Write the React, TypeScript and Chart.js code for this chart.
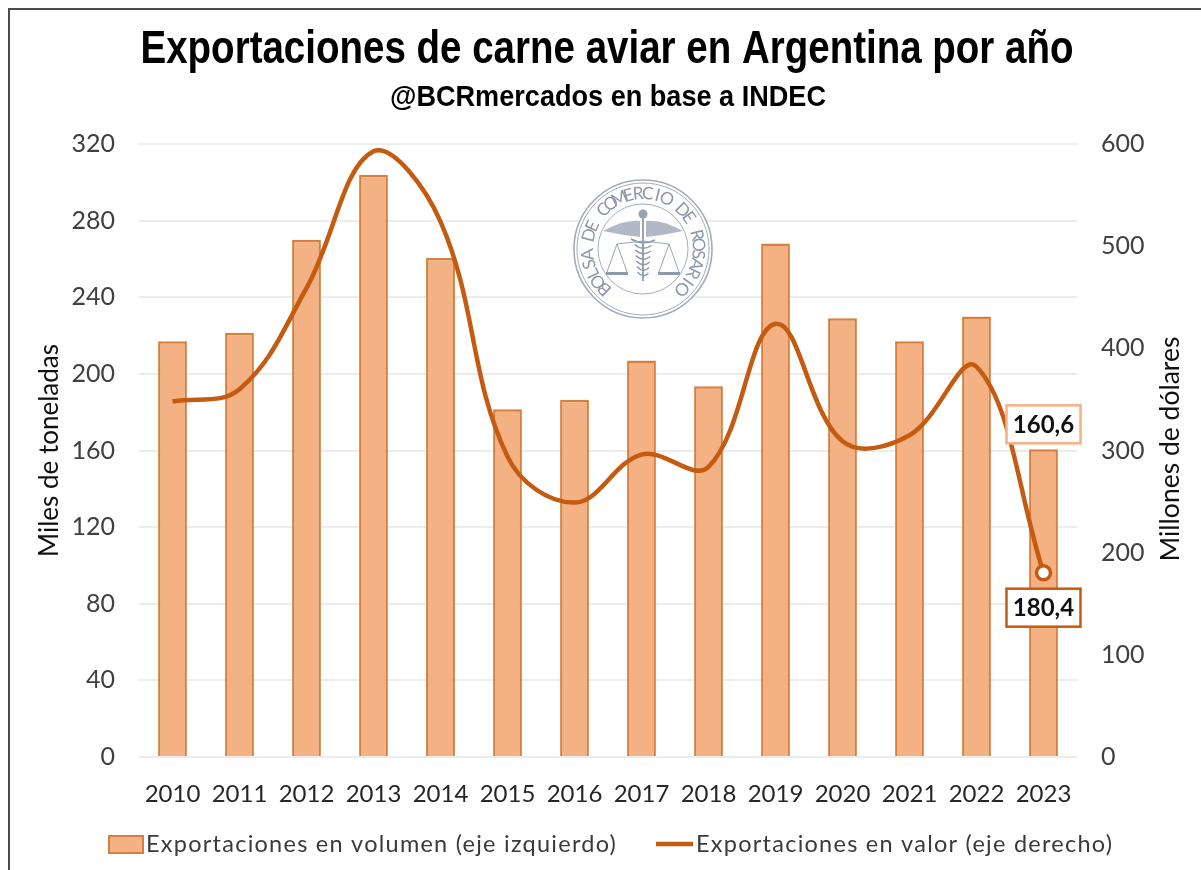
import React, { useEffect, useRef } from "react";
import { Chart, registerables } from "chart.js";

Chart.register(...registerables);

const years = ["2010","2011","2012","2013","2014","2015","2016","2017","2018","2019","2020","2021","2022","2023"];
const volumen = [217, 221.5, 270, 304, 260.5, 181.5, 186.5, 207, 193.5, 268, 229, 217, 230, 160.6];
const valor = [348, 360, 459, 593, 524, 294, 249, 296, 284, 424, 309, 315, 382, 180.4];
const leftTicks = [0, 40, 80, 120, 160, 200, 240, 280, 320];
const rightTicks = [0, 100, 200, 300, 400, 500, 600];

const titleText = "Exportaciones de carne aviar en Argentina por año";
const subtitleText = "@BCRmercados en base a INDEC";
const rightTitle = "Millones de dólares";
const sealText = "BOLSA DE COMERCIO DE ROSARIO";

const ORANGE = "#c55a11";
const FILL = "#f4b183";
const BAR_EDGE = "#d5803f";
const LATO = "Lato, Carlito, sans-serif";
const ARIAL = "'Liberation Sans', Arial, sans-serif";

const headings = {
  id: "headings",
  afterDraw(chart: any) {
    const { ctx } = chart;
    const stretched = (text: string, font: string, cx: number, cy: number, w: number) => {
      ctx.save();
      ctx.font = font;
      ctx.fillStyle = "#000000";
      ctx.textAlign = "center";
      ctx.textBaseline = "middle";
      const k = w / ctx.measureText(text).width;
      ctx.translate(cx, cy);
      ctx.scale(k, 1);
      ctx.fillText(text, 0, 0);
      ctx.restore();
    };
    stretched(titleText, `bold 46px ${ARIAL}`, 607, 50, 933);
    stretched(subtitleText, `bold 30px ${ARIAL}`, 608, 98, 436);
    ctx.save();
    ctx.translate(1170, 449);
    ctx.rotate(-Math.PI / 2);
    ctx.font = `26.5px ${LATO}`;
    ctx.fillStyle = "#111111";
    ctx.textAlign = "center";
    ctx.textBaseline = "middle";
    ctx.fillText(rightTitle, 0, 0);
    ctx.restore();
  },
};

const decoration = {
  id: "decoration",
  beforeDatasetsDraw(chart: any) {
    const { ctx } = chart;
    const cx = 643, cy = 249;
    ctx.save();
    ctx.fillStyle = "rgba(255,255,255,0.85)";
    ctx.beginPath(); ctx.arc(cx, cy, 70, 0, Math.PI * 2); ctx.fill();
    ctx.strokeStyle = "#a3abbb";
    ctx.lineWidth = 1.6;
    ctx.beginPath(); ctx.arc(cx, cy, 69, 0, Math.PI * 2); ctx.stroke();
    ctx.lineWidth = 1;
    ctx.beginPath(); ctx.arc(cx, cy, 66, 0, Math.PI * 2); ctx.stroke();
    ctx.beginPath(); ctx.arc(cx, cy, 45, 0, Math.PI * 2); ctx.stroke();
    ctx.fillStyle = "#8f98ab";
    ctx.font = `17.5px ${LATO}`;
    ctx.textAlign = "center";
    ctx.textBaseline = "middle";
    const start = (-136 * Math.PI) / 180;
    const step = (272 * Math.PI) / 180 / (sealText.length - 1);
    [...sealText].forEach((ch, i) => {
      const a = start + i * step;
      ctx.save();
      ctx.translate(cx + Math.sin(a) * 55.5, cy - Math.cos(a) * 55.5);
      ctx.rotate(a);
      ctx.fillText(ch, 0, 0);
      ctx.restore();
    });
    ctx.strokeStyle = "#8f99ac";
    ctx.lineWidth = 1.8;
    ctx.beginPath(); ctx.moveTo(cx, cy - 38); ctx.lineTo(cx, cy + 32); ctx.stroke();
    ctx.fillStyle = "#9aa3b5";
    ctx.beginPath(); ctx.arc(cx, cy - 35, 4.5, 0, Math.PI * 2); ctx.fill();
    ctx.lineWidth = 1.5;
    for (let i = 0; i < 7; i++) {
      const y = cy - 10 + i * 5.5;
      const w = i === 0 ? 12 : 9 - i * 0.6;
      ctx.beginPath(); ctx.moveTo(cx - w, y); ctx.quadraticCurveTo(cx, y + 7, cx + w, y + 1); ctx.stroke();
    }
    ctx.fillStyle = "#b2b9c6";
    [-1, 1].forEach((s) => {
      ctx.beginPath();
      ctx.moveTo(cx + s * 3, cy - 28);
      ctx.quadraticCurveTo(cx + s * 18, cy - 30, cx + s * 40, cy - 18);
      ctx.quadraticCurveTo(cx + s * 22, cy - 14, cx + s * 3, cy - 12);
      ctx.fill();
      const px = cx + s * 26;
      ctx.strokeStyle = "#9aa3b5";
      ctx.lineWidth = 1;
      ctx.beginPath();
      ctx.moveTo(cx, cy - 8); ctx.lineTo(px, cy - 5);
      ctx.moveTo(px, cy - 5); ctx.lineTo(px - 10, cy + 23);
      ctx.moveTo(px, cy - 5); ctx.lineTo(px + 10, cy + 23);
      ctx.stroke();
      ctx.fillStyle = "#8f99ac";
      ctx.fillRect(px - 11, cy + 23, 22, 3);
      ctx.fillStyle = "#b2b9c6";
    });
    ctx.restore();
  },
};

const callouts = {
  id: "callouts",
  afterDatasetsDraw(chart: any) {
    const { ctx, scales } = chart;
    const last = years.length - 1;
    const x = scales.x.getPixelForValue(last);
    const draw = (cy: number, text: string, edge: string) => {
      ctx.save();
      ctx.fillStyle = "#ffffff";
      ctx.strokeStyle = edge;
      ctx.lineWidth = 2.5;
      ctx.fillRect(x - 37, cy - 19, 74, 38);
      ctx.strokeRect(x - 37, cy - 19, 74, 38);
      ctx.fillStyle = "#111111";
      ctx.font = `bold 24px ${LATO}`;
      ctx.textAlign = "center";
      ctx.textBaseline = "middle";
      ctx.fillText(text, x, cy + 1);
      ctx.restore();
    };
    const fmt = (v: number) => v.toFixed(1).replace(".", ",");
    draw(scales.y.getPixelForValue(volumen[last]) - 25, fmt(volumen[last]), "#f4b183");
    draw(scales.y1.getPixelForValue(valor[last]) + 35, fmt(valor[last]), ORANGE);
  },
};

const legendRow = {
  id: "legendRow",
  afterDraw(chart: any) {
    const { ctx } = chart;
    const [bar, line] = chart.data.datasets;
    ctx.save();
    ctx.font = `23.5px ${LATO}`;
    (ctx as any).letterSpacing = "1.25px";
    ctx.textBaseline = "middle";
    ctx.textAlign = "left";
    ctx.fillStyle = "#3a3a3a";
    ctx.fillText(bar.label, 146, 844);
    ctx.fillText(line.label, 696, 844);
    ctx.fillStyle = bar.backgroundColor;
    ctx.strokeStyle = bar.borderColor;
    ctx.lineWidth = 2;
    ctx.fillRect(109, 836, 34, 17);
    ctx.strokeRect(109, 836, 34, 17);
    ctx.strokeStyle = line.borderColor;
    ctx.lineWidth = 4.5;
    ctx.beginPath(); ctx.moveTo(656, 844); ctx.lineTo(693, 844); ctx.stroke();
    ctx.restore();
  },
};

const frame = {
  id: "frame",
  afterDraw(chart: any) {
    const { ctx } = chart;
    ctx.save();
    ctx.strokeStyle = "#4a4a4a";
    ctx.lineWidth = 2;
    ctx.beginPath(); ctx.moveTo(9, 870); ctx.lineTo(9, 9); ctx.lineTo(1201, 9); ctx.stroke();
    ctx.restore();
  },
};

export default function App() {
  const ref = useRef<HTMLCanvasElement>(null);
  useEffect(() => {
    const grid = { color: "#ececec", lineWidth: 2, drawTicks: false };
    const chart = new Chart(ref.current!, {
      type: "bar",
      data: {
        labels: years,
        datasets: [
          {
            type: "bar",
            label: "Exportaciones en volumen (eje izquierdo)",
            data: volumen,
            yAxisID: "y",
            backgroundColor: FILL,
            borderColor: BAR_EDGE,
            borderWidth: 2.5,
            categoryPercentage: 1,
            barPercentage: 0.43,
            order: 2,
          },
          {
            type: "line",
            label: "Exportaciones en valor (eje derecho)",
            data: valor,
            yAxisID: "y1",
            borderColor: ORANGE,
            borderWidth: 4.5,
            tension: 0.38,
            clip: false,
            pointRadius: (c: any) => (c.dataIndex === years.length - 1 ? 7 : 0),
            pointBackgroundColor: "#ffffff",
            pointBorderColor: ORANGE,
            pointBorderWidth: 3.5,
            order: 1,
          },
        ],
      } as any,
      options: {
        responsive: false,
        animation: false,
        layout: { padding: { top: 144 } },
        plugins: {
          legend: { display: false },
          tooltip: { enabled: false },
          title: { display: false },
        },
        scales: {
          x: {
            offset: true,
            grid: { display: false },
            border: { display: false },
            ticks: { color: "#262626", font: { family: LATO, size: 24 }, padding: 15, maxRotation: 0, autoSkip: false },
            afterFit: (s: any) => { s.height = 113; },
          },
          y: {
            position: "left",
            min: 0,
            max: 320,
            afterBuildTicks: (s: any) => { s.ticks = leftTicks.map((value) => ({ value })); },
            grid,
            border: { display: false },
            ticks: { color: "#404040", font: { family: LATO, size: 25 }, padding: 24 },
            title: {
              display: true,
              text: "Miles de toneladas",
              color: "#111111",
              font: { family: LATO, size: 26 },
              padding: { top: 34, bottom: 0 },
            },
            afterFit: (s: any) => { s.width = 139; },
          },
          y1: {
            position: "right",
            min: 0,
            max: 600,
            afterBuildTicks: (s: any) => { s.ticks = rightTicks.map((value) => ({ value })); },
            grid: { display: false, drawTicks: false },
            border: { display: false },
            ticks: { color: "#404040", font: { family: LATO, size: 25 }, padding: 24 },
            afterFit: (s: any) => { s.width = 124; },
          },
        },
      },
      plugins: [decoration, callouts, headings, legendRow, frame],
    } as any);
    return () => chart.destroy();
  }, []);
  return (
    <canvas
      ref={ref}
      width={1201}
      height={870}
      style={{ position: "absolute", left: 0, top: 0, display: "block", filter: "blur(0.5px)" }}
    />
  );
}
